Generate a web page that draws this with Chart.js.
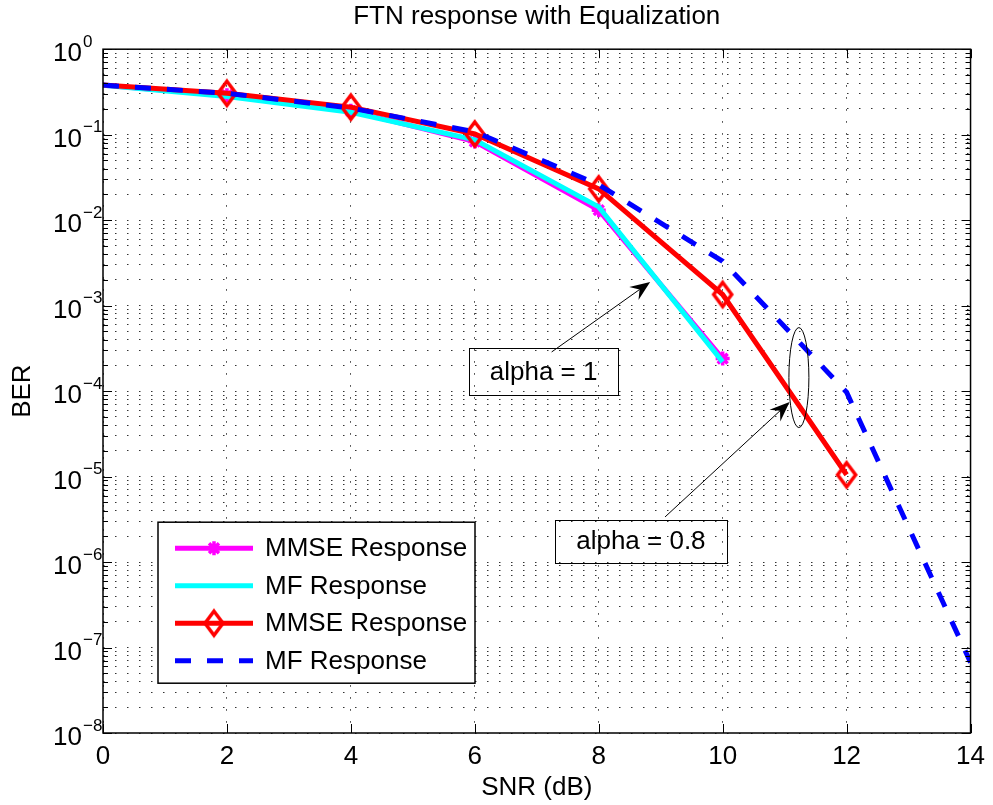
<!DOCTYPE html>
<html>
<head>
<meta charset="utf-8">
<title>FTN response with Equalization</title>
<script src="https://cdn.jsdelivr.net/npm/chart.js@4.4.1/dist/chart.umd.min.js"></script>
<style>
  html, body { margin: 0; padding: 0; background: #fff; }
</style>
</head>
<body>
<canvas id="berChart" width="993" height="805"></canvas>
<script>
/* BER vs SNR, FTN with equalization - MATLAB-style semilog plot */

const FONT = '"Liberation Sans", Arial, Helvetica, sans-serif';
const FS = 26;

// data
const SNR_ALPHA1  = [0, 2, 4, 6, 8, 10];
const SNR_ALPHA08 = [0, 2, 4, 6, 8, 10, 12];
const SNR_MF08    = [0, 2, 4, 6, 8, 10, 12, 14];

const BER_MMSE_ALPHA1  = [0.38, 0.29, 0.19, 0.083, 0.0131, 2.4e-4];
const BER_MF_ALPHA1    = [0.38, 0.28, 0.183, 0.087, 0.0143, 2.2e-4];
const BER_MMSE_ALPHA08 = [0.38, 0.305, 0.21, 0.102, 0.0232, 1.35e-3, 1.05e-5];
const BER_MF_ALPHA08   = [0.38, 0.305, 0.205, 0.108, 0.026, 3.3e-3, 9.7e-5, 6.7e-8];

const SERIES_LABELS = ['MMSE Response', 'MF Response', 'MMSE Response', 'MF Response'];

const X_TICKS   = [0, 2, 4, 6, 8, 10, 12, 14];
const Y_DECADES = [1e-8, 1e-7, 1e-6, 1e-5, 1e-4, 1e-3, 1e-2, 1e-1, 1];
const Y_MINOR   = [2, 3, 4, 5, 6, 7, 8, 9];

const pts = (xs, ys) => xs.map((x, i) => ({ x, y: ys[i] }));

function diamondMarker() {
  const c = document.createElement('canvas');
  c.width = 26; c.height = 32;
  const g = c.getContext('2d');
  g.strokeStyle = '#ff0000';
  g.lineWidth = 3.5;
  g.beginPath();
  g.moveTo(13, 4); g.lineTo(22, 16); g.lineTo(13, 28); g.lineTo(4, 16);
  g.closePath();
  g.stroke();
  return c;
}
const DIAMOND = diamondMarker();

// y ticks: every 1..9 x 10^k
const yTickValues = [];
Y_DECADES.forEach(d => {
  yTickValues.push(d);
  if (d < 1) Y_MINOR.forEach(m => yTickValues.push(m * d));
});

function drawStar(ctx, x, y, r) {
  const d = r * Math.SQRT1_2;
  ctx.beginPath();
  ctx.moveTo(x - r, y); ctx.lineTo(x + r, y);
  ctx.moveTo(x, y - r); ctx.lineTo(x, y + r);
  ctx.moveTo(x - d, y - d); ctx.lineTo(x + d, y + d);
  ctx.moveTo(x - d, y + d); ctx.lineTo(x + d, y - d);
  ctx.stroke();
}

function drawArrow(ctx, x1, y1, x2, y2) {
  const a = Math.atan2(y2 - y1, x2 - x1), c = Math.cos(a), s = Math.sin(a);
  const L = 20, W = 8, N = 13;
  ctx.beginPath();
  ctx.moveTo(x1, y1);
  ctx.lineTo(x2 - N * c, y2 - N * s);
  ctx.stroke();
  const bx = x2 - L * c, by = y2 - L * s;
  ctx.beginPath();
  ctx.moveTo(x2, y2);
  ctx.lineTo(bx - W * s, by + W * c);
  ctx.lineTo(x2 - N * c, y2 - N * s);
  ctx.lineTo(bx + W * s, by - W * c);
  ctx.closePath();
  ctx.fill();
}

// annotations in data coordinates
const TEXT_BOXES = [
  { text: 'alpha = 1',   x: 7.11, y: 1.675e-4, w: 149, h: 47 },
  { text: 'alpha = 0.8', x: 8.68, y: 1.75e-6,  w: 172, h: 43 },
];
const ARROWS = [
  { from: [7.24, 2.87e-4], to: [8.83, 1.89e-3] },
  { from: [9.07, 3.37e-6], to: [11.08, 7.46e-5] },
];
const ELLIPSE = { x: 11.23, y: 1.44e-4, rx: 10, ry: 50 };

const matlabAxes = {
  id: 'matlabAxes',
  afterDatasetsDraw(chart) {
    const { ctx, chartArea: a, scales: { x: xs, y: ys } } = chart;
    ctx.save();
    ctx.strokeStyle = '#000';
    ctx.fillStyle = '#000';

    // inward tick marks
    ctx.lineWidth = 1;
    ctx.beginPath();
    yTickValues.forEach(v => {
      const py = Math.round(ys.getPixelForValue(v)) + 0.5;
      const len = Y_DECADES.includes(v) ? 9 : 5;
      ctx.moveTo(a.left, py); ctx.lineTo(a.left + len, py);
      ctx.moveTo(a.right, py); ctx.lineTo(a.right - len, py);
    });
    X_TICKS.forEach(v => {
      const px = Math.round(xs.getPixelForValue(v)) + 0.5;
      ctx.moveTo(px, a.bottom); ctx.lineTo(px, a.bottom - 9);
      ctx.moveTo(px, a.top); ctx.lineTo(px, a.top + 9);
    });
    ctx.stroke();

    // box
    ctx.lineWidth = 1.5;
    ctx.strokeRect(a.left, a.top, a.right - a.left, a.bottom - a.top);

    // y tick labels 10^k
    Y_DECADES.forEach(v => {
      const py = ys.getPixelForValue(v);
      const e = Math.round(Math.log10(v));
      ctx.textBaseline = 'middle';
      ctx.textAlign = 'right';
      ctx.font = FS + 'px ' + FONT;
      ctx.fillText('10', 82, py + 5);
      ctx.textAlign = 'left';
      ctx.font = '17px ' + FONT;
      ctx.fillText(e === 0 ? '0' : '\u2212' + Math.abs(e), 83, py - 7);
    });

    // annotations
    ctx.lineWidth = 1;
    ctx.font = FS + 'px ' + FONT;
    ctx.textAlign = 'center';
    ctx.textBaseline = 'middle';
    TEXT_BOXES.forEach(b => {
      const cx = xs.getPixelForValue(b.x), cy = ys.getPixelForValue(b.y);
      ctx.strokeRect(Math.round(cx - b.w / 2) + 0.5, Math.round(cy - b.h / 2) + 0.5, b.w, b.h);
      ctx.fillText(b.text, cx, cy + 1);
    });
    ARROWS.forEach(ar => {
      drawArrow(ctx,
        xs.getPixelForValue(ar.from[0]), ys.getPixelForValue(ar.from[1]),
        xs.getPixelForValue(ar.to[0]), ys.getPixelForValue(ar.to[1]));
    });
    ctx.beginPath();
    ctx.ellipse(xs.getPixelForValue(ELLIPSE.x), ys.getPixelForValue(ELLIPSE.y),
      ELLIPSE.rx, ELLIPSE.ry, 0, 0, Math.PI * 2);
    ctx.stroke();

    // legend box, lower left
    const lx = a.left + 55, ly = a.top + 473, lw = 317, lh = 161;
    ctx.fillStyle = '#fff';
    ctx.fillRect(lx, ly, lw, lh);
    ctx.strokeStyle = '#000';
    ctx.lineWidth = 1.5;
    ctx.strokeRect(lx, ly, lw, lh);
    ctx.font = FS + 'px ' + FONT;
    ctx.textAlign = 'left';
    chart.data.datasets.forEach((ds, i) => {
      const ry = ly + 26 + i * 37.5;
      ctx.save();
      ctx.strokeStyle = ds.borderColor;
      ctx.lineWidth = ds.borderWidth;
      ctx.setLineDash(ds.borderDash || []);
      ctx.beginPath();
      ctx.moveTo(lx + 17, ry); ctx.lineTo(lx + 95, ry);
      ctx.stroke();
      ctx.setLineDash([]);
      const mx = lx + 56;
      if (ds.pointStyle === DIAMOND) ctx.drawImage(DIAMOND, mx - DIAMOND.width / 2, ry - DIAMOND.height / 2);
      else if (ds.pointStyle === 'star') {
        ctx.strokeStyle = ds.pointBorderColor;
        ctx.lineWidth = ds.pointBorderWidth;
        drawStar(ctx, mx, ry, 7);
      }
      ctx.restore();
      ctx.fillStyle = '#000';
      ctx.fillText(ds.label, lx + 107, ry + 1);
    });
    ctx.restore();
  }
};

// MATLAB leaves the marker off at SNR = 0 in this figure
const skipFirst = r => c => (c.dataIndex === 0 ? 0 : r);

const gridStyle = { color: 'rgba(0,0,0,0.8)', lineWidth: 1, drawTicks: false };
const gridBorder = { display: false, dash: [1.5, 10.5] };

new Chart(document.getElementById('berChart'), {
  type: 'line',
  data: {
    datasets: [
      { label: SERIES_LABELS[0], data: pts(SNR_ALPHA1, BER_MMSE_ALPHA1), order: 4,
        borderColor: '#ff00ff', borderWidth: 5, pointStyle: 'star', pointRadius: skipFirst(7),
        pointBorderColor: '#ff00ff', pointBorderWidth: 3.5, pointBackgroundColor: '#ff00ff' },
      { label: SERIES_LABELS[1], data: pts(SNR_ALPHA1, BER_MF_ALPHA1), order: 3,
        borderColor: '#00ffff', borderWidth: 5, pointRadius: 0 },
      { label: SERIES_LABELS[2], data: pts(SNR_ALPHA08, BER_MMSE_ALPHA08), order: 2,
        borderColor: '#ff0000', borderWidth: 5, pointStyle: DIAMOND, pointRadius: skipFirst(12) },
      { label: SERIES_LABELS[3], data: pts(SNR_MF08, BER_MF_ALPHA08), order: 1,
        borderColor: '#0000ff', borderWidth: 5, borderDash: [16, 16], pointRadius: 0 },
    ]
  },
  options: {
    responsive: false,
    animation: false,
    devicePixelRatio: 1,
    layout: { padding: { left: 0, right: 20, top: 0, bottom: 0 } },
    elements: { line: { tension: 0, fill: false } },
    plugins: {
      legend: { display: false },
      tooltip: { enabled: false },
      title: {
        display: true, fullSize: false, text: 'FTN response with Equalization', color: '#000',
        font: { family: FONT, size: FS, weight: 'normal' },
        padding: { top: 1, bottom: 17 }
      }
    },
    scales: {
      x: {
        type: 'linear', min: 0, max: 14,
        afterBuildTicks: s => { s.ticks = X_TICKS.map(v => ({ value: v })); },
        afterFit: s => { s.height = 72; },
        ticks: { color: '#000', font: { family: FONT, size: FS }, padding: 8, maxRotation: 0, autoSkip: false },
        grid: gridStyle,
        border: gridBorder,
        title: { display: true, text: 'SNR (dB)', color: '#000',
          font: { family: FONT, size: FS }, padding: { top: 0, bottom: 2 } }
      },
      y: {
        type: 'logarithmic', min: 1e-8, max: 1,
        afterBuildTicks: s => { s.ticks = yTickValues.map(v => ({ value: v })); },
        afterFit: s => { s.width = 103; },
        ticks: { display: false },
        grid: gridStyle,
        border: gridBorder,
        title: { display: true, text: 'BER', color: '#000',
          font: { family: FONT, size: FS }, padding: { top: 7, bottom: 0 } }
      }
    }
  },
  plugins: [matlabAxes]
});
</script>
</body>
</html>
